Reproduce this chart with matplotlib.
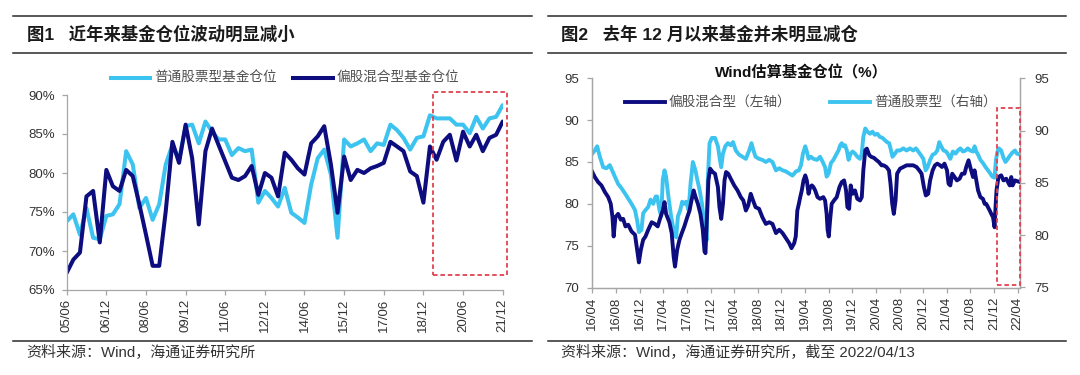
import matplotlib
matplotlib.use('Agg')
import matplotlib.pyplot as plt
import matplotlib.dates as mdates
from matplotlib.ticker import PercentFormatter, MultipleLocator
from matplotlib.patches import Rectangle
from matplotlib.lines import Line2D
import pandas as pd
from datetime import datetime

plt.rcParams['font.family'] = ['Liberation Sans', 'Noto Sans CJK SC', 'DejaVu Sans']

# ---------------- data: chart 1 (quarterly, 2005/06 - 2021/12) ----------------
q_dates = [datetime(2005 + (5 + 3 * i) // 12, (5 + 3 * i) % 12 + 1, 1) for i in range(67)]
stock_fund = [73.8, 74.7, 72.1, 75.5, 71.7, 71.5, 74.5, 74.7, 76.0, 82.8,
              81.1, 75.5, 76.8, 74.0, 76.0, 81.1, 83.6, 81.7, 86.0, 86.2,
              83.8, 86.6, 85.3, 84.3, 84.3, 82.3, 83.2, 82.8, 83.0, 76.2,
              77.7, 76.8, 75.7, 78.1, 74.9, 74.3, 73.6, 78.5, 81.9, 83.0,
              79.8, 71.7, 84.3, 83.4, 83.8, 84.3, 82.8, 83.8, 83.6, 86.2,
              85.5, 84.5, 83.0, 84.5, 84.7, 87.4, 87.0, 87.0, 87.0, 86.2,
              86.2, 85.1, 87.2, 85.7, 87.0, 87.2, 88.7]
mixed_fund = [67.2, 68.9, 69.8, 77.0, 77.7, 71.1, 80.4, 78.3, 77.7, 80.4,
              79.6, 76.0, 72.1, 68.1, 68.1, 75.1, 84.0, 81.3, 86.2, 81.9,
              73.4, 82.8, 85.7, 83.6, 81.5, 79.4, 79.1, 79.6, 80.9, 77.2,
              80.0, 79.4, 77.0, 82.6, 81.7, 80.6, 79.8, 83.8, 84.7, 86.0,
              81.1, 74.9, 82.1, 79.1, 80.4, 80.0, 80.6, 80.9, 81.3, 84.0,
              83.4, 82.8, 80.2, 79.6, 76.2, 83.4, 81.7, 84.0, 84.9, 81.6,
              85.3, 83.4, 84.9, 82.8, 84.5, 84.9, 86.6]
c1_ticks = [datetime(2005 + (5 + 18 * k) // 12, (5 + 18 * k) % 12 + 1, 1) for k in range(12)]

# ---------------- data: chart 2 (Wind estimate, 2016/04 - 2022/04/13) ----------------
mixed_w_dates = ['2016-04-01','2016-04-14','2016-05-01','2016-05-18','2016-06-05','2016-06-22','2016-07-05','2016-07-14','2016-07-20','2016-07-29',
 '2016-08-12','2016-08-26','2016-09-07','2016-09-19','2016-10-03','2016-10-20','2016-11-07','2016-11-18','2016-11-27','2016-12-07',
 '2016-12-19','2016-12-31','2017-01-14','2017-02-01','2017-02-17','2017-03-04','2017-03-18','2017-03-30','2017-04-08','2017-04-16',
 '2017-05-03','2017-05-15','2017-05-25','2017-06-01','2017-06-12','2017-06-24','2017-07-06','2017-07-19','2017-08-03','2017-08-15',
 '2017-08-23','2017-09-05','2017-09-15','2017-09-27','2017-10-10','2017-10-22','2017-10-31','2017-11-05','2017-11-12','2017-11-20',
 '2017-11-29','2017-12-12','2017-12-24','2018-01-08','2018-01-16','2018-01-25','2018-02-03','2018-02-11','2018-02-19','2018-03-02',
 '2018-03-15','2018-04-02','2018-04-19','2018-05-06','2018-05-19','2018-06-01','2018-06-13','2018-06-26','2018-07-08','2018-07-21',
 '2018-08-08','2018-08-25','2018-09-12','2018-09-29','2018-10-16','2018-11-03','2018-11-20','2018-12-07','2018-12-24','2019-01-10',
 '2019-01-22','2019-02-05','2019-02-13','2019-02-21','2019-03-01','2019-03-08','2019-03-16','2019-03-25','2019-04-03','2019-04-11',
 '2019-04-20','2019-04-28','2019-05-07','2019-05-15','2019-05-24','2019-06-05','2019-06-18','2019-07-05','2019-07-14','2019-07-22',
 '2019-07-27','2019-08-02','2019-08-09','2019-08-17','2019-08-29','2019-09-12','2019-09-26','2019-10-08','2019-10-20','2019-10-30',
 '2019-11-06','2019-11-15','2019-11-23','2019-12-03','2019-12-15','2019-12-27','2020-01-10','2020-01-19','2020-01-27','2020-02-06',
 '2020-02-14','2020-02-27','2020-03-09','2020-03-21','2020-04-05','2020-04-16','2020-04-30','2020-05-11','2020-05-25','2020-06-07',
 '2020-06-15','2020-06-24','2020-07-02','2020-07-11','2020-07-19','2020-08-03','2020-08-20','2020-09-06','2020-09-23','2020-10-10',
 '2020-10-27','2020-11-10','2020-11-22','2020-12-04','2020-12-14','2020-12-26','2021-01-05','2021-01-18','2021-01-30','2021-02-11',
 '2021-02-25','2021-03-07','2021-03-20','2021-04-02','2021-04-10','2021-04-19','2021-04-29','2021-05-11','2021-05-23','2021-06-06',
 '2021-06-18','2021-07-01','2021-07-10','2021-07-22','2021-08-02','2021-08-14','2021-08-22','2021-08-31','2021-09-09','2021-09-21',
 '2021-10-04','2021-10-13','2021-10-21','2021-10-30','2021-11-08','2021-11-16','2021-11-25','2021-12-03','2021-12-08','2021-12-13',
 '2021-12-23','2022-01-06','2022-01-18','2022-02-01','2022-02-19','2022-02-27','2022-03-06','2022-03-18','2022-04-13']
mixed_w_vals = [83.8,83.2,82.6,82.2,81.4,80.8,80.0,78.4,76.1,78.4,
 78.8,78.1,78.2,77.3,77.5,76.7,76.3,74.5,73.0,74.5,
 75.7,76.1,76.9,77.8,77.6,77.3,78.4,79.2,80.2,78.8,
 77.8,76.5,73.7,72.5,74.5,75.7,76.5,77.3,78.4,79.2,
 80.2,81.6,80.8,80.0,78.8,76.9,74.3,74.1,78.1,82.8,
 84.2,83.8,83.6,82.0,79.6,78.2,80.0,82.8,83.8,83.6,
 83.0,82.2,81.6,80.8,80.4,79.2,79.8,81.2,80.4,79.6,
 79.4,78.4,77.6,77.8,77.6,76.5,76.9,76.5,75.9,75.3,
 74.7,75.3,76.1,79.2,80.0,80.8,81.6,82.8,83.4,82.8,
 81.2,82.0,82.2,82.0,81.6,80.8,80.6,80.8,80.4,78.8,
 76.9,76.1,78.1,80.0,80.4,80.8,82.0,82.6,82.8,81.6,
 79.6,79.4,82.2,81.2,81.6,80.6,80.4,80.8,84.0,86.4,
 86.6,85.8,85.6,85.5,85.2,85.0,84.6,84.6,84.4,84.0,
 82.4,80.0,78.8,80.4,83.6,84.2,84.4,84.6,84.6,84.6,
 84.4,84.0,83.6,82.0,81.0,81.2,82.8,84.0,84.6,84.8,
 84.6,84.4,84.8,84.0,82.4,82.2,83.6,83.2,82.8,83.0,
 83.6,83.6,84.4,85.2,84.2,83.2,84.0,82.8,81.6,80.8,
 80.6,80.0,80.0,79.6,79.2,78.8,78.4,77.2,79.6,81.6,
 83.2,83.4,82.8,83.0,82.2,83.2,82.2,82.8,82.6]

stock_w_dates = ['2016-04-01','2016-04-14','2016-04-26','2016-05-10','2016-05-27','2016-06-13','2016-06-30','2016-07-12','2016-07-26','2016-08-12',
 '2016-08-29','2016-09-16','2016-10-03','2016-10-20','2016-11-07','2016-11-18','2016-11-27','2016-12-10','2016-12-19','2016-12-31',
 '2017-01-14','2017-01-26','2017-02-09','2017-02-21','2017-03-01','2017-03-13','2017-03-22','2017-03-30','2017-04-08','2017-04-16',
 '2017-04-28','2017-05-12','2017-05-25','2017-06-07','2017-06-16','2017-06-28','2017-07-08','2017-07-19','2017-07-28','2017-08-10',
 '2017-08-20','2017-09-01','2017-09-14','2017-09-24','2017-10-06','2017-10-18','2017-10-28','2017-11-04','2017-11-11','2017-11-17',
 '2017-11-26','2017-12-08','2017-12-24','2018-01-08','2018-01-16','2018-01-25','2018-02-03','2018-02-15','2018-02-28','2018-03-15',
 '2018-03-27','2018-04-10','2018-04-27','2018-05-14','2018-06-01','2018-06-18','2018-06-30','2018-07-10','2018-07-21','2018-08-08',
 '2018-08-25','2018-09-12','2018-09-29','2018-10-16','2018-11-03','2018-11-20','2018-12-07','2018-12-24','2019-01-10','2019-01-27',
 '2019-02-14','2019-03-01','2019-03-12','2019-03-22','2019-04-03','2019-04-11','2019-04-20','2019-05-02','2019-05-15','2019-06-02',
 '2019-06-18','2019-07-02','2019-07-14','2019-07-22','2019-08-01','2019-08-13','2019-08-26','2019-09-09','2019-09-21','2019-09-30',
 '2019-10-08','2019-10-16','2019-10-25','2019-11-03','2019-11-12','2019-11-23','2019-12-03','2019-12-15','2019-12-27','2020-01-10',
 '2020-01-19','2020-01-27','2020-02-06','2020-02-17','2020-03-01','2020-03-14','2020-03-26','2020-04-08','2020-04-21','2020-05-05',
 '2020-05-16','2020-05-28','2020-06-08','2020-06-15','2020-06-25','2020-07-08','2020-07-19','2020-08-03','2020-08-20','2020-09-06',
 '2020-09-23','2020-10-10','2020-10-24','2020-11-05','2020-11-17','2020-12-01','2020-12-13','2020-12-23','2021-01-05','2021-01-18',
 '2021-01-30','2021-02-11','2021-02-21','2021-03-03','2021-03-15','2021-03-29','2021-04-08','2021-04-19','2021-05-02','2021-05-16',
 '2021-05-28','2021-06-10','2021-06-23','2021-07-07','2021-07-18','2021-07-30','2021-08-14','2021-08-22','2021-08-31','2021-09-09',
 '2021-09-21','2021-10-04','2021-10-18','2021-10-30','2021-11-11','2021-11-21','2021-12-03','2021-12-10','2021-12-18','2021-12-25',
 '2022-01-06','2022-01-18','2022-01-28','2022-02-09','2022-02-20','2022-03-05','2022-03-18','2022-03-28','2022-04-13']
stock_w_vals = [87.8,88.1,88.5,87.5,86.5,86.4,86.7,86.2,85.6,84.9,
 84.5,84.0,83.5,83.0,82.4,81.4,80.3,80.5,82.1,82.4,
 82.7,83.4,83.0,83.7,83.7,82.4,81.8,85.3,86.2,85.6,
 83.7,81.8,80.5,79.8,81.8,82.4,83.2,83.0,83.2,82.4,
 84.9,87.0,86.2,85.3,84.3,83.0,81.4,80.5,79.5,85.3,
 88.8,89.3,89.3,88.5,87.5,86.5,87.8,88.5,88.8,88.6,
 88.9,88.1,87.7,87.5,87.3,88.1,88.8,88.1,87.5,87.3,
 87.2,87.0,87.2,87.0,86.2,86.4,86.2,86.1,85.9,85.7,
 86.1,86.2,86.7,87.8,88.5,88.0,87.3,87.5,87.3,87.2,
 87.5,87.0,86.5,85.6,85.9,86.9,87.2,87.7,88.1,88.6,
 88.8,88.5,88.6,88.1,87.2,87.8,88.0,87.8,87.5,87.3,
 87.8,89.4,90.2,89.9,89.7,89.9,89.6,89.7,89.4,89.3,
 89.1,88.9,88.8,88.3,87.5,87.8,88.1,88.1,88.3,88.1,
 88.3,88.1,88.3,88.0,87.7,87.3,86.2,86.5,87.2,87.7,
 87.8,88.1,88.9,88.5,88.1,88.0,87.7,87.3,88.0,87.8,
 88.1,88.3,88.0,88.1,88.3,88.1,88.0,88.5,88.0,87.7,
 87.2,86.9,86.5,86.2,85.9,85.6,85.5,87.2,88.0,88.3,
 88.1,87.4,87.0,87.3,87.6,87.9,88.1,87.8,87.7]
c2_ticks = [datetime(2016 + (3 + 4 * k) // 12, (3 + 4 * k) % 12 + 1, 1) for k in range(19)]

# ---------------- style ----------------
LIGHT = '#3DC3EF'
DARK = '#0D0D80'
RED = '#E0414F'
SPINE = '#A6A6A6'
TXT = '#333333'
W, H = 1080, 375

fig = plt.figure(figsize=(W / 100, H / 100), dpi=100)


def fx(px):
    return px / W


def fy(py):
    return 1 - py / H


def style_axes(ax, pad=3):
    for s in ax.spines.values():
        s.set_color(SPINE)
        s.set_linewidth(0.9)
    ax.tick_params(colors=SPINE, labelcolor=TXT, labelsize=9.5, length=3.5, width=0.9, pad=pad)


# ---------------- chart 1 ----------------
ax1 = fig.add_axes([fx(66.7), fy(290), fx(436), 195 / H])
ax1.plot(q_dates, stock_fund, color=LIGHT, lw=2.9, solid_joinstyle='round', solid_capstyle='round')
ax1.plot(q_dates, mixed_fund, color=DARK, lw=2.9, solid_joinstyle='round', solid_capstyle='round')
ax1.set_ylim(65, 90)
ax1.yaxis.set_major_locator(MultipleLocator(5))
ax1.yaxis.set_major_formatter(PercentFormatter(xmax=100, decimals=0))
ax1.set_xlim(q_dates[0], q_dates[-1])
ax1.set_xticks(c1_ticks)
ax1.xaxis.set_major_formatter(mdates.DateFormatter('%y/%m'))
for lab in ax1.get_xticklabels():
    lab.set_rotation(90)
ax1.spines['top'].set_visible(False)
ax1.spines['right'].set_visible(False)
style_axes(ax1)
ax1.tick_params(axis='y', pad=5)
x0 = mdates.date2num(datetime(2019, 4, 15))
x1 = mdates.date2num(datetime(2022, 1, 25))
ax1.add_patch(Rectangle((x0, 66.9), x1 - x0, 90.4 - 66.9, fill=False, ec=RED, lw=1.3,
                        ls=(0, (2.5, 1.6)), clip_on=False, zorder=5))

# ---------------- chart 2 ----------------
ax2 = fig.add_axes([fx(592.3), fy(287.5), fx(427.7), 209.2 / H])
ax2r = ax2.twinx()
ax2r.plot(pd.to_datetime(stock_w_dates), stock_w_vals, color=LIGHT, lw=2.8, solid_joinstyle='round')
ax2.plot(pd.to_datetime(mixed_w_dates), mixed_w_vals, color=DARK, lw=2.8, solid_joinstyle='round')
ax2.set_zorder(ax2r.get_zorder() + 1)
ax2.patch.set_visible(False)
ax2.set_ylim(70, 95)
ax2r.set_ylim(75, 95)
ax2.yaxis.set_major_locator(MultipleLocator(5))
ax2r.yaxis.set_major_locator(MultipleLocator(5))
ax2.set_xlim(datetime(2016, 4, 1), datetime(2022, 4, 13))
ax2.set_xticks(c2_ticks)
ax2.xaxis.set_major_formatter(mdates.DateFormatter('%y/%m'))
for lab in ax2.get_xticklabels():
    lab.set_rotation(90)
ax2.spines['top'].set_visible(False)
ax2r.spines['top'].set_visible(False)
style_axes(ax2)
style_axes(ax2r, pad=7)
ax2.tick_params(axis='y', pad=6)
x0 = mdates.date2num(datetime(2021, 12, 16))
x1 = mdates.date2num(datetime(2022, 4, 13))
ax2.add_patch(Rectangle((x0, 70.3), x1 - x0, 91.5 - 70.3, fill=False, ec=RED, lw=1.3,
                        ls=(0, (2.5, 1.6)), clip_on=False, zorder=5))
ax2.text(0.49, 1.025, 'Wind估算基金仓位（%）', transform=ax2.transAxes, ha='center', va='center',
         fontsize=11, fontweight='bold', color='#111111')

# ---------------- legends (manual) ----------------
def legend_item(xa, xb, y, color, label, lw):
    fig.add_artist(Line2D([fx(xa), fx(xb)], [fy(y), fy(y)], color=color, lw=lw, transform=fig.transFigure))
    fig.text(fx(xb + 4), fy(y), label, fontsize=9.8, color='#505050', va='center', ha='left')


legend_item(111, 150, 78, LIGHT, '普通股票型基金仓位', 2.9)
legend_item(293, 333, 78, DARK, '偏股混合型基金仓位', 2.9)
legend_item(625, 665, 102, DARK, '偏股混合型（左轴）', 2.8)
legend_item(830, 870, 102, LIGHT, '普通股票型（右轴）', 2.8)

# ---------------- header / footer rules and texts ----------------
for (xa, xb) in [(13, 532), (547.6, 1066)]:
    for y in (16.2, 52.8, 341):
        fig.add_artist(Line2D([fx(xa), fx(xb)], [fy(y), fy(y)], color='#2a2a2a', lw=1.1,
                              transform=fig.transFigure))

fig.text(fx(27), fy(34.5), '图1   近年来基金仓位波动明显减小', fontsize=12.5, fontweight='bold',
         color='#1a1a1a', va='center', ha='left')
fig.text(fx(561), fy(34.5), '图2   去年 12 月以来基金并未明显减仓', fontsize=12.5, fontweight='bold',
         color='#1a1a1a', va='center', ha='left')
fig.text(fx(26), fy(353), '资料来源：Wind，海通证券研究所', fontsize=10.8, color=TXT, va='center', ha='left')
fig.text(fx(561), fy(353), '资料来源：Wind，海通证券研究所，截至 2022/04/13', fontsize=10.8, color=TXT,
         va='center', ha='left')

fig.savefig('out.png', dpi=100)
